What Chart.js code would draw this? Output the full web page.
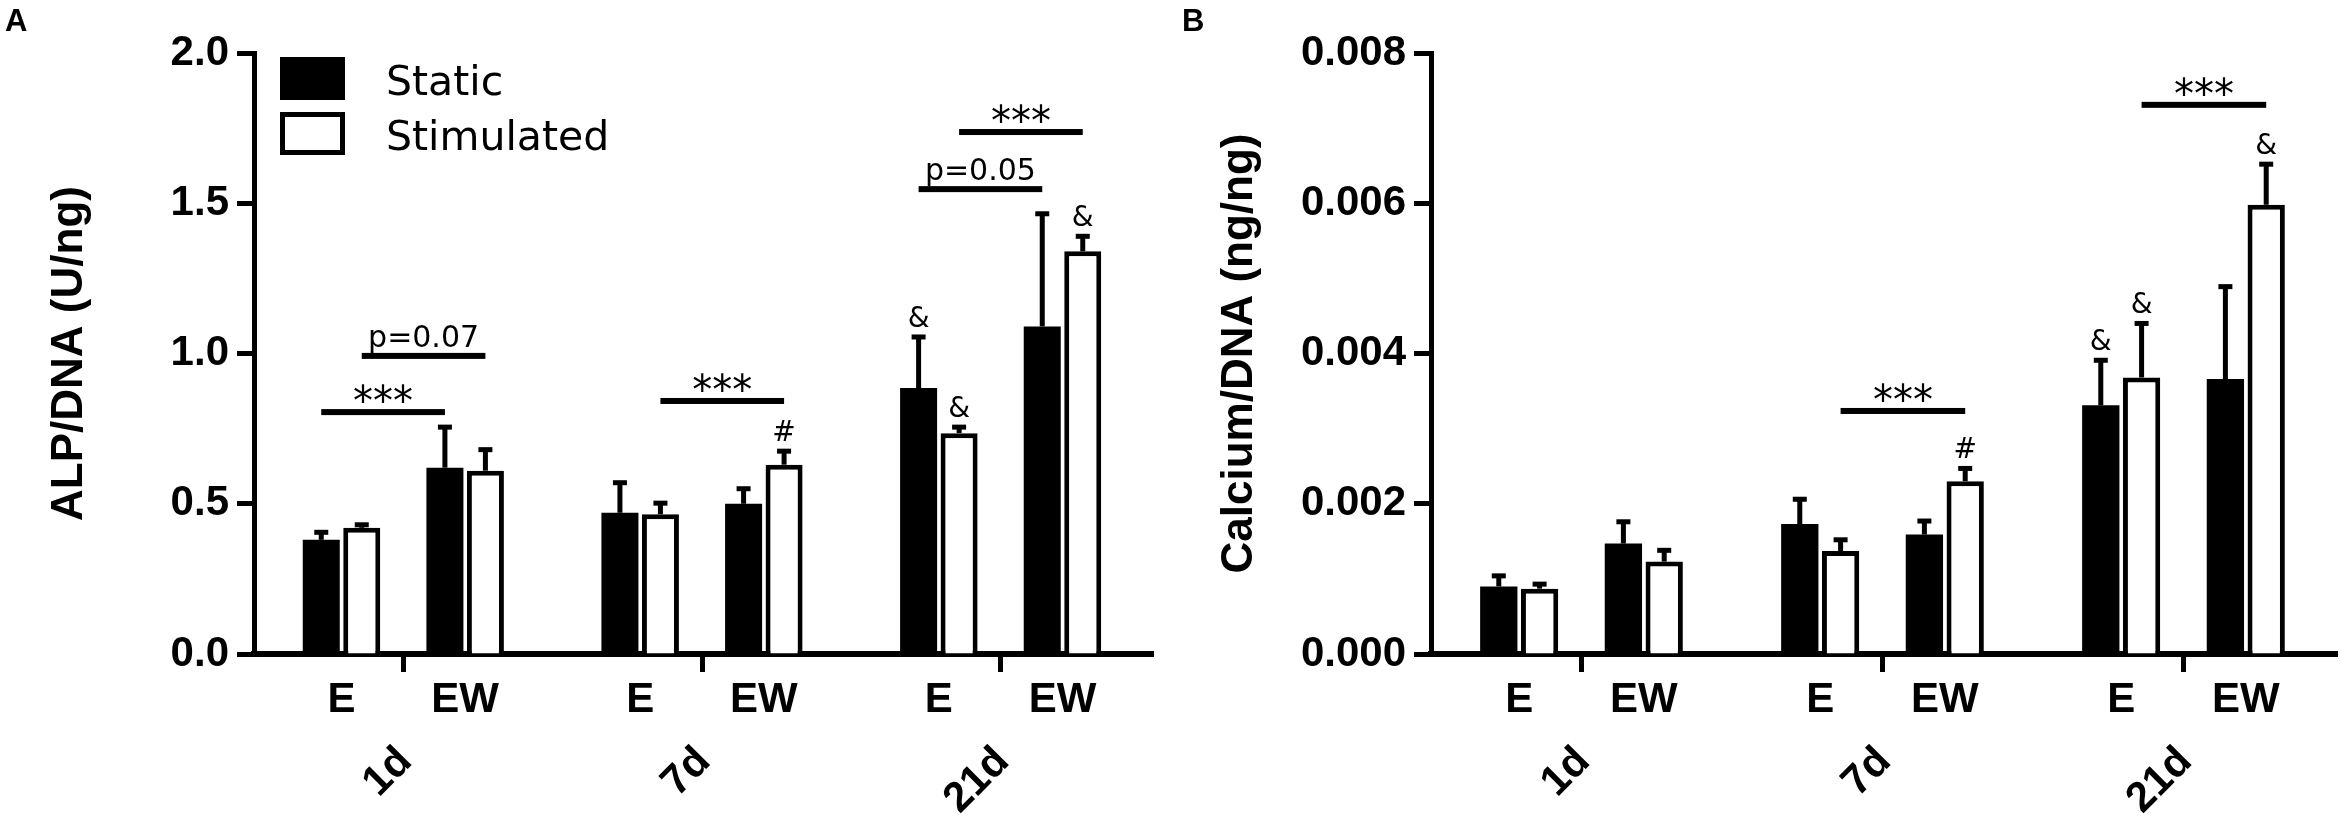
<!DOCTYPE html>
<html>
<head>
<meta charset="utf-8">
<script src="https://cdn.jsdelivr.net/npm/chart.js@4.4.1/dist/chart.umd.min.js"></script>
<style>
  html, body { margin: 0; padding: 0; background: #fff; }
  #wrap { position: relative; width: 2341px; height: 823px; }
  canvas { position: absolute; top: 0; }
  #alp { left: 0; }
  #ca { left: 1170px; }
</style>
</head>
<body>
<div id="wrap">
  <canvas id="alp" width="1170" height="823"></canvas>
  <canvas id="ca" width="1171" height="823"></canvas>
</div>
<script>
// categories
const groups = ['1d', '7d', '21d'];
const materials = ['E', 'EW'];
const seriesNames = ['Static', 'Stimulated'];

// Panel A: ALP/DNA (U/ng), order 1d E, 1d EW, 7d E, 7d EW, 21d E, 21d EW
const alpStatic = [0.38, 0.62, 0.47, 0.50, 0.885, 1.09];
const alpStaticErr = [0.025, 0.135, 0.10, 0.05, 0.17, 0.375];
const alpStim = [0.42, 0.61, 0.465, 0.63, 0.735, 1.34];
const alpStimErr = [0.01, 0.07, 0.037, 0.045, 0.02, 0.05];
const alpTicks = [0, 0.5, 1.0, 1.5, 2.0];
const alpTickLabels = ['0.0', '0.5', '1.0', '1.5', '2.0'];

// Panel B: Calcium/DNA (ng/ng)
const caStatic = [0.0009, 0.00147, 0.00173, 0.00159, 0.00331, 0.00366];
const caStaticErr = [0.00014, 0.00029, 0.00033, 0.00018, 0.0006, 0.00123];
const caStim = [0.00087, 0.00123, 0.00137, 0.0023, 0.00368, 0.00598];
const caStimErr = [0.00006, 0.00015, 0.00015, 0.00017, 0.00072, 0.00054];
const caTicks = [0, 0.002, 0.004, 0.006, 0.008];
const caTickLabels = ['0.000', '0.002', '0.004', '0.006', '0.008'];

// significance brackets: from/to = [material index, series index]
const alpBrackets = [
  { group: 0, from: [0, 0], to: [1, 0], y: 0.805, text: '***' },
  { group: 0, from: [0, 1], to: [1, 1], y: 0.992, text: 'p=0.07' },
  { group: 1, from: [0, 1], to: [1, 1], y: 0.842, text: '***' },
  { group: 2, from: [0, 0], to: [1, 0], y: 1.547, text: 'p=0.05' },
  { group: 2, from: [0, 1], to: [1, 1], y: 1.737, text: '***' }
];
const caBrackets = [
  { group: 1, from: [0, 1], to: [1, 1], y: 0.003235, text: '***' },
  { group: 2, from: [0, 1], to: [1, 1], y: 0.00731, text: '***' }
];
const alpMarkers = [
  { group: 1, sub: 1, ds: 1, text: '#' },
  { group: 2, sub: 0, ds: 0, text: '&' },
  { group: 2, sub: 0, ds: 1, text: '&' },
  { group: 2, sub: 1, ds: 1, text: '&' }
];
const caMarkers = [
  { group: 1, sub: 1, ds: 1, text: '#' },
  { group: 2, sub: 0, ds: 0, text: '&' },
  { group: 2, sub: 0, ds: 1, text: '&' },
  { group: 2, sub: 1, ds: 1, text: '&' }
];

const PAIR_OFFSET = 0.207;
const axisFamily = '"Liberation Sans", Arial, sans-serif';
const noteFamily = '"DejaVu Sans", sans-serif';

function points(values) {
  return values.map((v, i) => {
    const g = Math.floor(i / materials.length);
    const sub = i % materials.length;
    return { x: g + (sub === 0 ? -PAIR_OFFSET : PAIR_OFFSET), y: v };
  });
}

// upward error bars with caps
const errorBars = {
  id: 'errorBars',
  afterDatasetsDraw(chart) {
    const ctx = chart.ctx, ys = chart.scales.y;
    ctx.save();
    ctx.fillStyle = '#000';
    chart.data.datasets.forEach((ds, d) => {
      chart.getDatasetMeta(d).data.forEach((bar, i) => {
        const top = ys.getPixelForValue(ds.data[i].y);
        const cap = ys.getPixelForValue(ds.data[i].y + ds.errors[i]);
        ctx.fillRect(bar.x - 2.5, cap, 5, top - cap);
        ctx.fillRect(bar.x - 7, cap - 2.5, 14, 5);
      });
    });
    ctx.restore();
  }
};

// labels, legend, brackets and markers
const panelNotes = {
  id: 'panelNotes',
  afterDraw(chart, args, o) {
    const ctx = chart.ctx;
    const xs = chart.scales.x, ys = chart.scales.y;
    const area = chart.chartArea;
    const barX = (g, sub, ds) => chart.getDatasetMeta(ds).data[g * materials.length + sub].x;
    ctx.save();
    ctx.fillStyle = '#000';
    ctx.textBaseline = 'alphabetic';

    ctx.font = 'bold 31px ' + axisFamily;
    ctx.textAlign = 'left';
    ctx.fillText(o.letter, o.letterX, 31);

    ctx.font = 'bold 42px ' + axisFamily;
    groups.forEach((g, gi) => {
      ctx.textAlign = 'center';
      materials.forEach((m, mi) => {
        const x = xs.getPixelForValue(gi + (mi === 0 ? -PAIR_OFFSET : PAIR_OFFSET));
        ctx.fillText(m, x, area.bottom + 58);
      });
      ctx.save();
      ctx.translate(xs.getPixelForValue(gi) + 2, area.bottom + 101);
      ctx.rotate(-Math.PI / 4);
      ctx.textAlign = 'right';
      ctx.textBaseline = 'middle';
      ctx.fillText(g, 0, 0);
      ctx.restore();
    });

    ctx.textAlign = 'center';
    o.brackets.forEach(b => {
      const x1 = barX(b.group, b.from[0], b.from[1]);
      const x2 = barX(b.group, b.to[0], b.to[1]);
      const yl = ys.getPixelForValue(b.y);
      ctx.fillRect(x1, yl - 3, x2 - x1, 6);
      if (b.text.charAt(0) === 'p') {
        ctx.font = '30px ' + noteFamily;
        ctx.fillText(b.text, (x1 + x2) / 2, yl - 9);
      } else {
        ctx.font = '40px ' + noteFamily;
        ctx.fillText(b.text, (x1 + x2) / 2, yl + 3);
      }
    });

    ctx.font = '28px ' + noteFamily;
    o.markers.forEach(m => {
      const ds = chart.data.datasets[m.ds];
      const i = m.group * materials.length + m.sub;
      const cap = ys.getPixelForValue(ds.data[i].y + ds.errors[i]);
      ctx.fillText(m.text, barX(m.group, m.sub, m.ds), cap - 10);
    });

    if (o.legend) {
      ctx.fillRect(280, 57, 65, 43);
      ctx.fillRect(280, 112, 65, 43);
      ctx.fillStyle = '#fff';
      ctx.fillRect(285, 117, 55, 33);
      ctx.fillStyle = '#000';
      ctx.font = '41px ' + noteFamily;
      ctx.textAlign = 'left';
      ctx.fillText(seriesNames[0], 386, 95);
      ctx.fillText(seriesNames[1], 386, 150);
    }
    ctx.restore();
  }
};

function makePanel(id, p) {
  const ctx = document.getElementById(id).getContext('2d');
  return new Chart(ctx, {
    type: 'bar',
    data: {
      datasets: [
        {
          label: seriesNames[0],
          data: points(p.static),
          errors: p.staticErr,
          backgroundColor: '#000',
          borderWidth: 0
        },
        {
          label: seriesNames[1],
          data: points(p.stim),
          errors: p.stimErr,
          backgroundColor: '#fff',
          borderColor: '#000',
          borderWidth: 5
        }
      ]
    },
    options: {
      responsive: false,
      animation: false,
      events: [],
      categoryPercentage: 0.655,
      barPercentage: 0.914,
      layout: { padding: { left: 0, right: p.padRight, top: 53, bottom: 0 } },
      plugins: {
        legend: { display: false },
        tooltip: { enabled: false },
        panelNotes: { letter: p.letter, letterX: p.letterX, brackets: p.brackets, markers: p.markers, legend: p.legend }
      },
      scales: {
        x: {
          type: 'linear',
          min: -0.5,
          max: 2.51,
          offset: false,
          z: 1,
          afterBuildTicks: s => { s.ticks = groups.map((g, i) => ({ value: i })); },
          afterFit: s => { s.height = 823 - 654; },
          ticks: { display: false },
          grid: { offset: false, drawOnChartArea: false, tickLength: 18, tickWidth: 5, tickColor: '#000' },
          border: { color: '#000', width: 6 }
        },
        y: {
          min: 0,
          max: p.ticks[p.ticks.length - 1],
          z: 1,
          afterBuildTicks: s => { s.ticks = p.ticks.map(v => ({ value: v })); },
          afterFit: s => { s.width = p.axisLeft; },
          ticks: {
            callback: (v, i) => p.tickLabels[i],
            font: { family: axisFamily, size: 42, weight: 'bold' },
            color: '#000',
            padding: 8
          },
          grid: { drawOnChartArea: false, tickLength: 17, tickWidth: 5, tickColor: '#000' },
          border: { color: '#000', width: 5 },
          title: {
            display: true,
            text: p.title,
            color: '#000',
            font: { family: axisFamily, size: 44, weight: 'bold' },
            padding: { top: p.titleCenter - 26.4, bottom: 0 }
          }
        }
      }
    },
    plugins: [errorBars, panelNotes]
  });
}

makePanel('alp', {
  static: alpStatic, staticErr: alpStaticErr, stim: alpStim, stimErr: alpStimErr,
  ticks: alpTicks, tickLabels: alpTickLabels, title: 'ALP/DNA (U/ng)',
  brackets: alpBrackets, markers: alpMarkers, legend: true,
  letter: 'A', letterX: 5, axisLeft: 254, padRight: 17, titleCenter: 70
});

makePanel('ca', {
  static: caStatic, staticErr: caStaticErr, stim: caStim, stimErr: caStimErr,
  ticks: caTicks, tickLabels: caTickLabels, title: 'Calcium/DNA (ng/ng)',
  brackets: caBrackets, markers: caMarkers, legend: false,
  letter: 'B', letterX: 12, axisLeft: 261, padRight: 4, titleCenter: 70
});
</script>
</body>
</html>
